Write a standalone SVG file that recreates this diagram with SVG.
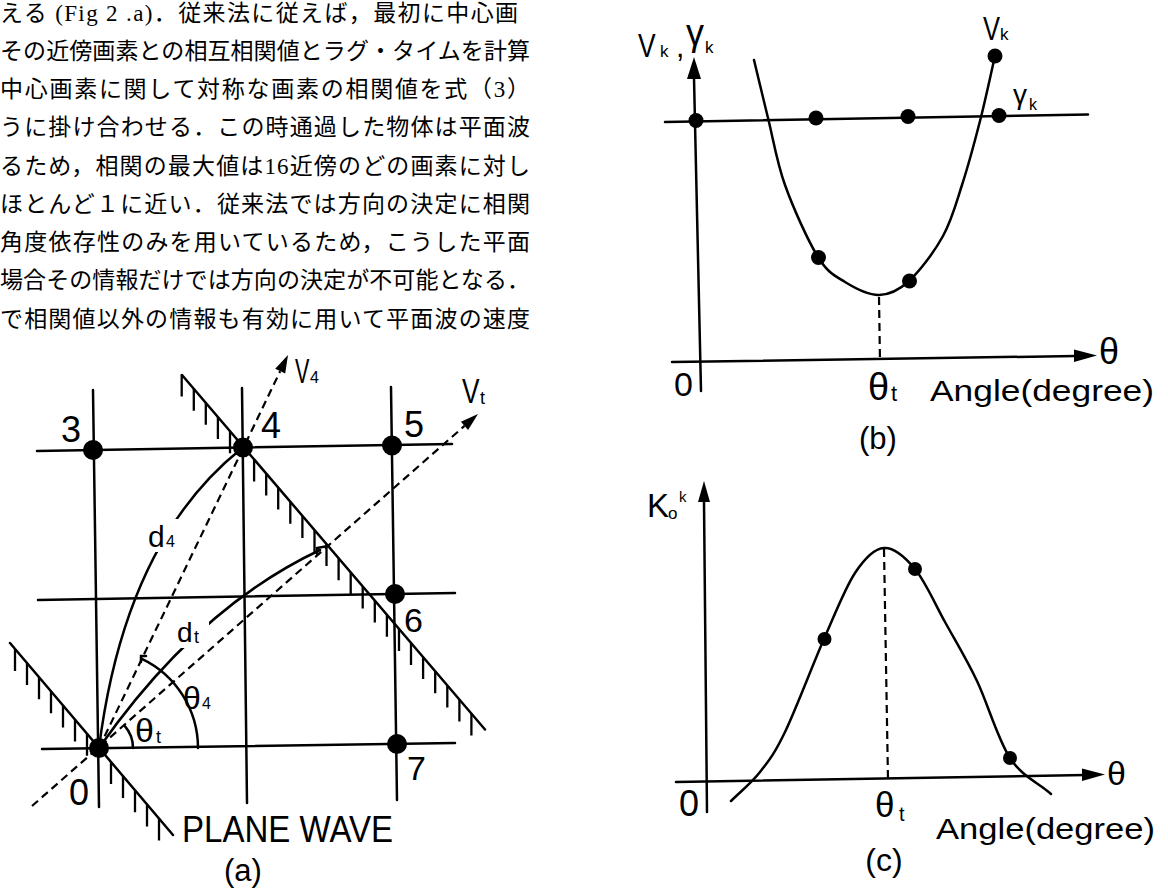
<svg xmlns="http://www.w3.org/2000/svg" width="1168" height="894" viewBox="0 0 1168 894">
<defs>
<style>
.body{font-family:'Liberation Serif','Noto Sans CJK JP',serif;font-size:23px;fill:#000}
.lbl{font-family:'Liberation Sans','DejaVu Sans',sans-serif;fill:#000}
.ln{stroke:#000;stroke-width:2.5;fill:none;stroke-linecap:round}
.dash{stroke:#000;stroke-width:2.2;fill:none;stroke-dasharray:8 5}
.tick{stroke:#000;stroke-width:2.3;fill:none}
.dot{fill:#000}
</style>
<mask id="m-d4" maskUnits="userSpaceOnUse" x="0" y="0" width="1168" height="894"><rect width="1168" height="894" fill="#fff"/><rect x="140" y="519" width="48" height="33" fill="#000"/></mask>
<mask id="m-dt" maskUnits="userSpaceOnUse" x="0" y="0" width="1168" height="894"><rect width="1168" height="894" fill="#fff"/><rect x="176" y="621" width="33" height="27" fill="#000"/></mask>
</defs>
<rect width="1168" height="894" fill="#fff"/>

<g id="text-block" class="body">
<text x="0" y="20.5" textLength="518" lengthAdjust="spacing">える (Fig 2 .a)．従来法に従えば，最初に中心画</text>
<text x="0" y="58.8" textLength="530" lengthAdjust="spacing">その近傍画素との相互相関値とラグ・タイムを計算</text>
<text x="0" y="97" textLength="530" lengthAdjust="spacing">中心画素に関して対称な画素の相関値を式（3）</text>
<text x="0" y="135.3" textLength="530" lengthAdjust="spacing">うに掛け合わせる．この時通過した物体は平面波</text>
<text x="0" y="173.5" textLength="530" lengthAdjust="spacing">るため，相関の最大値は16近傍のどの画素に対し</text>
<text x="0" y="211.8" textLength="530" lengthAdjust="spacing">ほとんど１に近い．従来法では方向の決定に相関</text>
<text x="0" y="250" textLength="530" lengthAdjust="spacing">角度依存性のみを用いているため，こうした平面</text>
<text x="0" y="288.3" textLength="530" lengthAdjust="spacing">場合その情報だけでは方向の決定が不可能となる．</text>
<text x="0" y="326.5" textLength="530" lengthAdjust="spacing">で相関値以外の情報も有効に用いて平面波の速度</text>
</g>

<g id="panel-a">
<g id="a-grid" class="ln">
<line x1="37" y1="451" x2="452" y2="444"/>
<line x1="38" y1="600" x2="455" y2="593"/>
<line x1="42" y1="749" x2="455" y2="743"/>
<line x1="93" y1="390" x2="99" y2="807"/>
<line x1="242" y1="388" x2="247" y2="803"/>
<line x1="391" y1="387" x2="397" y2="800"/>
</g>
<g id="plane-wave-upper">
<line class="ln" x1="182" y1="375" x2="485" y2="729.5"/>
<path class="tick" d="M181.7 374.6v22M193.8 388.8v22M205.8 402.8v22M217.9 417v22M230 431.2v22M254.1 459.4v22M266.2 473.6v22M278.2 487.6v22M290.3 501.7v22M302.4 515.9v22M314.5 530.1v22M326.5 544.1v22M338.6 558.2v22M350.7 572.4v22M362.7 586.4v22M374.8 600.6v22M386.9 614.7v22M399 628.9v22M411 642.9v22M423.1 657.1v22M435.2 671.2v22M447.3 685.4v22M459.4 699.5v22M471.4 713.6v22"/>
</g>
<g id="plane-wave-lower">
<line class="ln" x1="10" y1="643" x2="173" y2="835"/>
<path class="tick" d="M15 648.9v22M27 663v22M39 677.2v22M51 691.3v22M63 705.4v22M75 719.6v22M87 733.7v22M111 762v22M123 776.1v22M135 790.3v22M147 804.4v22M159 818.5v22"/>
</g>
<g id="a-connectors">
<line class="dash" x1="99" y1="748" x2="280.2" y2="371.2"/>
<polygon class="dot" points="288,355 285.2,373.6 275.2,368.8"/>
<line class="dash" x1="32" y1="806" x2="464.5" y2="425.9"/>
<polygon class="dot" points="478,414 468.1,430 460.9,421.8"/>
<path class="ln" d="M99 748 Q125 542 241 449" mask="url(#m-d4)"/>
<path class="ln" d="M99 748 Q197 608 320 550" mask="url(#m-dt)"/>
<path class="ln" d="M317 554 V548 L328 546"/>
<path class="ln" d="M198 748 A99 99 0 0 0 141.9 658.8"/>
<path class="ln" d="M141 662 V656 H146"/>
<path class="ln" d="M133 748 A34 34 0 0 0 124.5 725.6"/>
</g>
<g id="a-labels" class="lbl">
<text transform="translate(295 383) scale(0.6 1)" font-size="36">V</text>
<text x="310" y="383" font-size="16">4</text>
<text transform="translate(462 403) scale(0.75 1)" font-size="35">V</text>
<text x="480" y="404" font-size="18">t</text>
<text x="148" y="547" font-size="30">d</text>
<text x="166" y="547" font-size="16">4</text>
<text x="177" y="642" font-size="28">d</text>
<text x="194" y="643" font-size="18">t</text>
<text x="135" y="742" font-size="34">θ</text>
<text x="156" y="743" font-size="18">t</text>
<text x="183" y="709" font-size="32">θ</text>
<text x="202" y="709" font-size="16">4</text>
<text x="182" y="842" font-size="37" textLength="211" lengthAdjust="spacingAndGlyphs">PLANE WAVE</text>
<text x="243" y="881" font-size="31" text-anchor="middle">(a)</text>
</g>
<g id="node-3"><circle class="dot" cx="93" cy="450" r="10"/><text class="lbl" x="61" y="442" font-size="36">3</text></g>
<g id="node-4"><circle class="dot" cx="243" cy="447.5" r="10"/><text class="lbl" x="261" y="438" font-size="36">4</text></g>
<g id="node-5"><circle class="dot" cx="392" cy="445.5" r="10"/><text class="lbl" x="404" y="437" font-size="36">5</text></g>
<g id="node-6"><circle class="dot" cx="395" cy="594" r="10"/><text class="lbl" x="404" y="632" font-size="34">6</text></g>
<g id="node-7"><circle class="dot" cx="397" cy="744" r="10"/><text class="lbl" x="407" y="780" font-size="34">7</text></g>
<g id="node-0"><circle class="dot" cx="99" cy="748" r="10"/><text class="lbl" x="69" y="805" font-size="36">0</text></g>
</g>

<g id="panel-b">
<g id="b-axes">
<line class="ln" x1="694" y1="78" x2="701" y2="391"/>
<polygon class="dot" points="694,57 701,79 687,79"/>
<line class="ln" x1="672" y1="362" x2="1076" y2="356"/>
<polygon class="dot" points="1097,355.6 1074,349.6 1074,362"/>
</g>
<g id="b-curves">
<line class="ln" x1="665" y1="122" x2="1088" y2="114.5"/>
<path class="ln" d="M754 60 C758.7 79.3 762.8 97.2 768 118 C773.2 138.8 776.7 161.8 785 185 C793.3 208.2 808 240.8 818 257 C828 273.2 834.8 275.7 845 282 C855.2 288.3 868.3 295.2 879 295 C889.7 294.8 898.3 290.8 909 281 C919.7 271.2 934.2 252 943 236 C951.8 220 955.8 204.2 962 185 C968.2 165.8 974.5 142.5 980 121 C985.5 99.5 990 77.7 995 56"/>
<line class="dash" x1="879" y1="297" x2="880" y2="362"/>
</g>
<g id="b-points" class="dot">
<circle cx="696" cy="120.5" r="7.5"/>
<circle cx="816" cy="118" r="7.5"/>
<circle cx="908" cy="116.5" r="7.5"/>
<circle cx="999" cy="115.5" r="7.5"/>
<circle cx="818.5" cy="257.5" r="7.5"/>
<circle cx="909.5" cy="281" r="7.5"/>
<circle cx="995" cy="56" r="7.5"/>
</g>
<g id="b-labels" class="lbl">
<text transform="translate(638 57) scale(0.8 1)" font-size="33">V</text>
<text x="660" y="57" font-size="17">k</text>
<text x="676" y="57" font-size="30">,</text>
<text x="686" y="45" font-size="36">γ</text>
<text x="705" y="53" font-size="17">k</text>
<text transform="translate(983 40) scale(0.75 1)" font-size="34">V</text>
<text x="1000" y="40" font-size="17">k</text>
<text x="1013" y="104" font-size="28">γ</text>
<text x="1029" y="110" font-size="16">k</text>
<text x="674" y="396" font-size="34">0</text>
<text x="868" y="400" font-size="38">θ</text>
<text x="891" y="401" font-size="22">t</text>
<text x="930" y="401" font-size="30" textLength="224" lengthAdjust="spacingAndGlyphs">Angle(degree)</text>
<text x="1099" y="364" font-size="36">θ</text>
<text x="878" y="449" font-size="31" text-anchor="middle">(b)</text>
</g>
</g>

<g id="panel-c">
<g id="c-axes">
<line class="ln" x1="704" y1="502" x2="707" y2="812"/>
<polygon class="dot" points="704,481 710,502 698,502"/>
<line class="ln" x1="676" y1="782" x2="1085" y2="775"/>
<polygon class="dot" points="1105,774.6 1082,768.5 1082,781"/>
</g>
<g id="c-curves">
<path class="ln" d="M731 801 C740.7 791.3 751 783.5 760 772 C769 760.5 774.3 754.2 785 732 C795.7 709.8 812.3 665.5 824 639 C835.7 612.5 845 588.2 855 573 C865 557.8 874 548.7 884 548 C894 547.3 904.8 556.7 915 569 C925.2 581.3 934.7 603.3 945 622 C955.3 640.7 966.2 658.3 977 681 C987.8 703.7 997.7 739.2 1010 758 C1022.3 776.8 1037.3 782 1051 794"/>
<line class="dash" x1="884" y1="549" x2="888" y2="780"/>
</g>
<g id="c-points" class="dot">
<circle cx="824.5" cy="639" r="7"/>
<circle cx="915" cy="569" r="7"/>
<circle cx="1010" cy="758" r="7"/>
</g>
<g id="c-labels" class="lbl">
<text x="647" y="517" font-size="33">K</text>
<text x="668" y="519" font-size="17">o</text>
<text x="679" y="502" font-size="15">k</text>
<text x="679" y="816" font-size="36">0</text>
<text x="875" y="817" font-size="35">θ</text>
<text x="899" y="821" font-size="20">t</text>
<text x="936" y="839" font-size="30" textLength="219" lengthAdjust="spacingAndGlyphs">Angle(degree)</text>
<text x="1107" y="785" font-size="34">θ</text>
<text x="884" y="871" font-size="32" text-anchor="middle">(c)</text>
</g>
</g>
</svg>
